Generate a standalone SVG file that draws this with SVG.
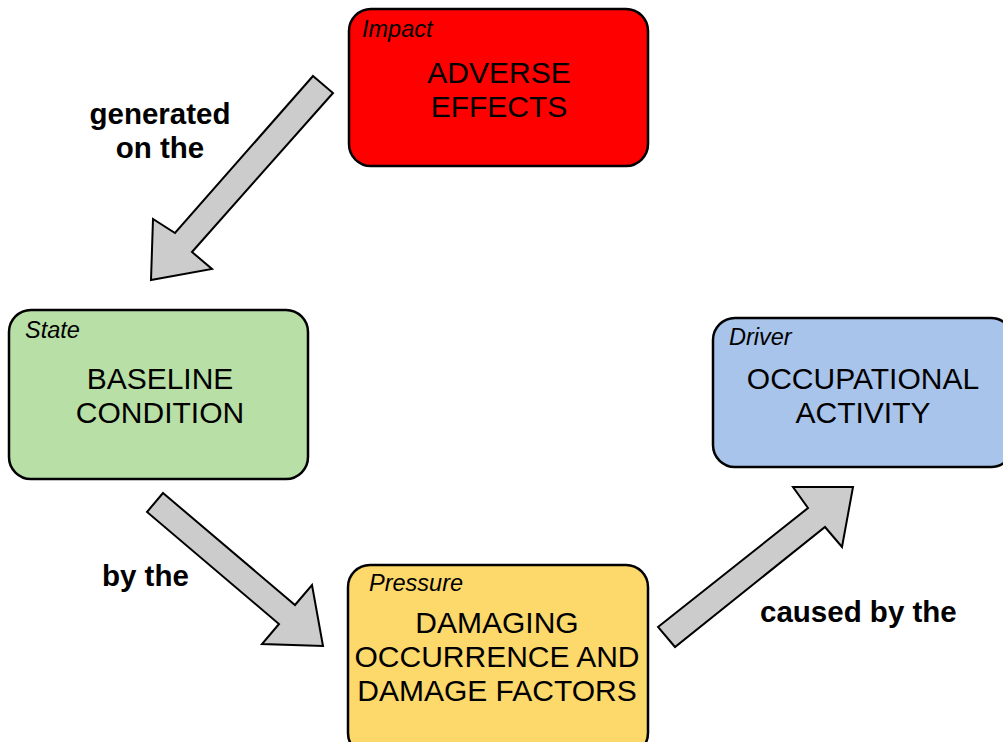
<svg xmlns="http://www.w3.org/2000/svg" width="1003" height="742" viewBox="0 0 1003 742">
<style>
.box{stroke:#000;stroke-width:2.5}
.cat{font-family:"Liberation Sans",Arial,sans-serif;font-style:italic;font-size:23.5px;fill:#000}
.main{font-family:"Liberation Sans",Arial,sans-serif;font-size:30px;fill:#000;text-anchor:middle}
.lbl{font-family:"Liberation Sans",Arial,sans-serif;font-weight:bold;font-size:29.5px;fill:#000}
.arr{fill:#cccccc;stroke:#000;stroke-width:2;stroke-linejoin:miter}
</style>
<rect width="1003" height="742" fill="#fff"/>
<g id="connectors">
<polygon class="arr" points="313,76 333,93 192,252 212,269 151,280 153,219 175,233"/>
<polygon class="arr" points="163,493 295,605 312,585 323,646 262,644 279,624 147,512"/>
<polygon class="arr" points="658,627 808,508 793,487 853,487 842,547 825,527 675,647"/>
</g>
<g id="impact">
<rect class="box" x="349" y="9" width="299" height="157" rx="22" fill="#ff0000"/>
<text class="cat" x="362" y="37">Impact</text>
<text class="main" x="499" y="83">ADVERSE</text>
<text class="main" x="499" y="117">EFFECTS</text>
</g>
<g id="state">
<rect class="box" x="9" y="310" width="299" height="169" rx="22" fill="#b7dfa6"/>
<text class="cat" x="25" y="338">State</text>
<text class="main" x="160" y="389">BASELINE</text>
<text class="main" x="160" y="423">CONDITION</text>
</g>
<g id="driver">
<rect class="box" x="713" y="318" width="300" height="149" rx="22" fill="#a9c4ea"/>
<text class="cat" x="729" y="345">Driver</text>
<text class="main" x="863" y="389">OCCUPATIONAL</text>
<text class="main" x="863" y="423">ACTIVITY</text>
</g>
<g id="pressure">
<rect class="box" x="348" y="565" width="300" height="190" rx="22" fill="#fdd86b"/>
<text class="cat" x="369" y="591">Pressure</text>
<text class="main" x="497" y="633">DAMAGING</text>
<text class="main" x="497" y="667">OCCURRENCE AND</text>
<text class="main" x="497" y="701">DAMAGE FACTORS</text>
</g>
<g id="labels">
<text class="lbl" x="160" y="124" text-anchor="middle">generated</text>
<text class="lbl" x="160" y="158" text-anchor="middle">on the</text>
<text class="lbl" x="102" y="586">by the</text>
<text class="lbl" x="760" y="622">caused by the</text>
</g>
</svg>
